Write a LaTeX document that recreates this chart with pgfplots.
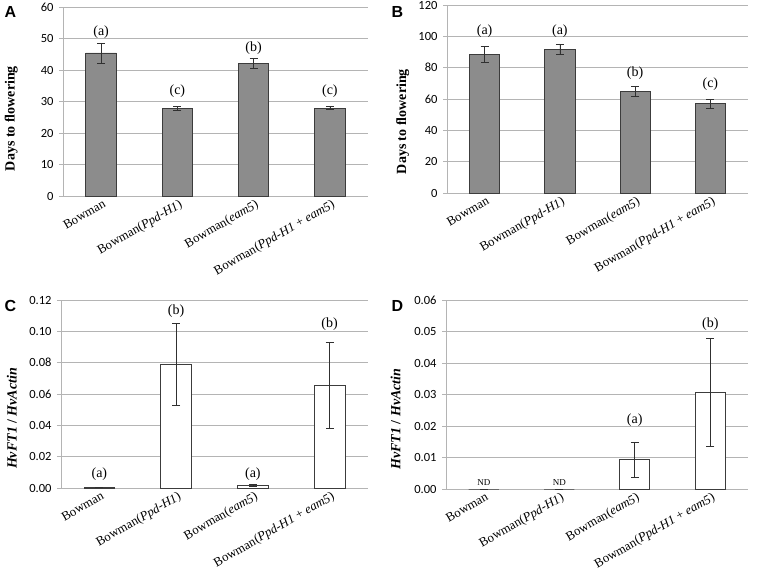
\documentclass[border=0pt]{standalone}
\usepackage{fontspec}
\setmainfont{Liberation Serif}
\newfontfamily\calibri{Carlito}
\newfontfamily\arial{Liberation Sans}
\usepackage{pgfplots}
\pgfplotsset{compat=1.18}

\definecolor{barfill}{HTML}{8C8C8C}
\definecolor{baredge}{HTML}{3C3C3C}
\definecolor{gridc}{HTML}{B4B4B4}
\definecolor{errc}{HTML}{303030}

\tikzset{letter/.style={font=\fontsize{14}{16}\selectfont}}

\pgfplotsset{
  panel/.style={
    scale only axis, ybar, bar width=0.4,
    xmin=-0.5, xmax=3.5, ymin=0,
    xtick={0,1,2,3},
    xticklabels={Bowman, Bowman(\textit{Ppd-H1}), Bowman(\textit{eam5}),
                 Bowman(\textit{Ppd-H1} + \textit{eam5})},
    xticklabel style={rotate=30, anchor=north east, inner sep=0.5pt, yshift=1pt, xshift=2pt,
                      font=\fontsize{12.8}{14}\selectfont},
    axis x line*=bottom, axis y line*=left,
    axis line style={gridc, line width=0.8pt},
    ymajorgrids, grid style={gridc, line width=0.8pt},
    xtick style={draw=none},
    ytick style={gridc, line width=0.8pt},
    tick align=outside, major tick length=4pt,
    yticklabel style={font=\calibri\fontsize{12.5}{14}\selectfont, xshift=-2pt,
                      /pgf/number format/assume math mode=true},
    ylabel style={font=\bfseries\fontsize{14}{16}\selectfont, anchor=center},
    clip=false,
  },
  grey bars/.style={fill=barfill, draw=baredge, line width=0.8pt,
    error bars/.cd, y dir=both, y explicit,
    error bar style={line width=0.7pt, errc},
    error mark options={rotate=90, line width=0.7pt, mark size=4pt, errc}},
  white bars/.style={fill=white, draw=baredge, line width=0.8pt,
    error bars/.cd, y dir=both, y explicit,
    error bar style={line width=0.7pt, errc},
    error mark options={rotate=90, line width=0.7pt, mark size=4pt, errc}},
}

\begin{document}
\begin{tikzpicture}
\useasboundingbox (0,0) rectangle (757pt,571pt);

% A
\begin{axis}[panel, at={(63pt,375pt)}, anchor=south west, width=305pt, height=189pt,
  ymax=60, ytick={0,10,...,60},
  ylabel={Days to flowering}, ylabel style={at={(rel axis cs:-0.17,0.41)}}]
\addplot[grey bars] coordinates {
  (0,45.4) +- (0,3.2) (1,27.8) +- (0,0.7) (2,42.0) +- (0,1.6) (3,27.9) +- (0,0.5) };
\node[letter] at (axis cs:0,52.0) {(a)};
\node[letter] at (axis cs:1,33.4) {(c)};
\node[letter] at (axis cs:2,47.1) {(b)};
\node[letter] at (axis cs:3,33.4) {(c)};
\end{axis}

% B
\begin{axis}[panel, at={(447pt,378pt)}, anchor=south west, width=301pt, height=188pt,
  ymax=120, ytick={0,20,...,120},
  ylabel={Days to flowering}, ylabel style={at={(rel axis cs:-0.147,0.38)}}]
\addplot[grey bars] coordinates {
  (0,88.5) +- (0,5.0) (1,91.7) +- (0,3.5) (2,64.8) +- (0,3.3) (3,56.9) +- (0,2.8) };
\node[letter] at (axis cs:0,103.6) {(a)};
\node[letter] at (axis cs:1,103.6) {(a)};
\node[letter] at (axis cs:2,76.3) {(b)};
\node[letter] at (axis cs:3,69.5) {(c)};
\end{axis}

% C
\begin{axis}[panel, at={(61pt,83pt)}, anchor=south west, width=307pt, height=188pt,
  ymax=0.12, ytick={0,0.02,...,0.12},
  yticklabel style={/pgf/number format/.cd, fixed, fixed zerofill, precision=2},
  scaled y ticks=false,
  ylabel={\textit{HvFT1} / \textit{HvActin}}, ylabel style={at={(rel axis cs:-0.16,0.37)}}]
\addplot[white bars] coordinates {
  (0,0.0004) +- (0,0) (1,0.0787) +- (0,0.0262) (2,0.0015) +- (0,0.0007) (3,0.0655) +- (0,0.0273) };
\node[letter] at (axis cs:0,0.0091) {(a)};
\node[letter] at (axis cs:1,0.1126) {(b)};
\node[letter] at (axis cs:2,0.0087) {(a)};
\node[letter] at (axis cs:3,0.1045) {(b)};
\end{axis}

% D
\begin{axis}[panel, at={(446pt,82pt)}, anchor=south west, width=302pt, height=189pt,
  ymax=0.06, ytick={0,0.01,...,0.06},
  yticklabel style={/pgf/number format/.cd, fixed, fixed zerofill, precision=2},
  scaled y ticks=false,
  ylabel={\textit{HvFT1} / \textit{HvActin}}, ylabel style={at={(rel axis cs:-0.167,0.37)}}]
\addplot[white bars] coordinates {
  (0,0) +- (0,0) (1,0) +- (0,0) (2,0.0093) +- (0,0.0056) (3,0.0307) +- (0,0.0170) };
\node[font=\fontsize{9}{10}\selectfont] at (axis cs:0,0.0019) {ND};
\node[font=\fontsize{9}{10}\selectfont] at (axis cs:1,0.0019) {ND};
\node[letter] at (axis cs:2,0.0220) {(a)};
\node[letter] at (axis cs:3,0.0522) {(b)};
\end{axis}

\node[font=\arial\bfseries\fontsize{16}{16}\selectfont, anchor=north west] at (1pt,568pt) {A};
\node[font=\arial\bfseries\fontsize{16}{16}\selectfont, anchor=north west] at (388pt,568pt) {B};
\node[font=\arial\bfseries\fontsize{16}{16}\selectfont, anchor=north west] at (1pt,274pt) {C};
\node[font=\arial\bfseries\fontsize{16}{16}\selectfont, anchor=north west] at (388pt,274pt) {D};
\end{tikzpicture}
\end{document}
